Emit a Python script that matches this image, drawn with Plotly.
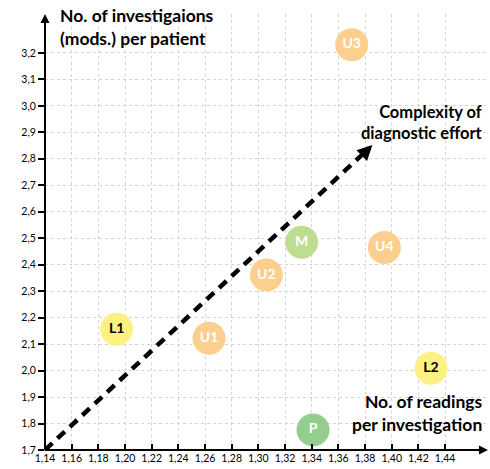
import plotly.graph_objects as go

# ---- data ----
labels = ["U3", "M", "U4", "U2", "L1", "U1", "L2", "P"]
readings_per_investigation = [1.370, 1.3325, 1.3945, 1.306, 1.1937, 1.263, 1.4295, 1.341]
investigations_per_patient = [3.231, 2.485, 2.465, 2.361, 2.156, 2.122, 2.009, 1.776]

x_tick_vals = [1.14, 1.16, 1.18, 1.20, 1.22, 1.24, 1.26, 1.28, 1.30, 1.32, 1.34, 1.36, 1.38, 1.40, 1.42, 1.44]
x_tick_text = ["1,14", "1,16", "1,18", "1,20", "1,22", "1,24", "1,26", "1,28", "1,30", "1,32",
               "1,34", "1,36", "1,38", "1,40", "1,42", "1,44"]
y_tick_vals = [1.7, 1.8, 1.9, 2.0, 2.1, 2.2, 2.3, 2.4, 2.5, 2.6, 2.7, 2.8, 2.9, 3.0, 3.1, 3.2]
y_tick_text = ["1,7", "1,8", "1,9", "2,0", "2,1", "2,2", "2,3", "2,4", "2,5", "2,6", "2,7", "2,8",
               "2,9", "3,0", "3,1", "3,2"]

complexity_x = [1.14, 1.383]
complexity_y = [1.70, 2.84]
complexity_tip = (1.3855, 2.852)

# ---- styles ----
fill = {"U": "#FDCF8F", "M": "#BEDD90", "P": "#94CE8C", "L": "#FCF182"}
txtc = {"U": "white", "M": "white", "P": "white", "L": "black"}
FONT = "Lato"

fig = go.Figure()

fig.add_trace(go.Scatter(
    x=complexity_x, y=complexity_y, mode="lines",
    line=dict(color="black", width=4.5, dash="10px,7px"),
    hoverinfo="skip", showlegend=False))

fig.add_trace(go.Scatter(
    x=readings_per_investigation, y=investigations_per_patient,
    mode="markers+text", text=labels, textposition="middle center",
    marker=dict(size=33, color=[fill[l[0]] for l in labels], line=dict(width=0)),
    textfont=dict(family=FONT, size=14, weight="bold", color=[txtc[l[0]] for l in labels]),
    showlegend=False, cliponaxis=False))

# arrowhead of the dashed complexity arrow
fig.add_annotation(x=complexity_tip[0], y=complexity_tip[1], xref="x", yref="y",
                   ax=-7, ay=7, axref="pixel", ayref="pixel",
                   showarrow=True, arrowhead=2, arrowsize=0.75, arrowwidth=4,
                   arrowcolor="black", text="")

# axis arrows
fig.add_annotation(x=1.0, y=0, xref="paper", yref="paper", ax=-445, ay=0,
                   showarrow=True, arrowhead=2, arrowsize=0.9, arrowwidth=2,
                   arrowcolor="black", text="")
fig.add_annotation(x=0, y=1.0, xref="paper", yref="paper", ax=0, ay=437,
                   showarrow=True, arrowhead=2, arrowsize=0.9, arrowwidth=2,
                   arrowcolor="black", text="")

fig.add_annotation(x=0.029, y=1.025, xref="paper", yref="paper", xanchor="left", yanchor="top",
                   align="left", showarrow=False,
                   text="<b>No. of investigaions<br>(mods.) per patient</b>",
                   font=dict(family=FONT, size=17.5, color="black"))
fig.add_annotation(x=0.993, y=0.752, xref="paper", yref="paper", xanchor="right", yanchor="middle",
                   align="right", showarrow=False,
                   text="<b>Complexity of<br>diagnostic effort</b>",
                   font=dict(family=FONT, size=16.5, color="black"))
fig.add_annotation(x=0.993, y=0.085, xref="paper", yref="paper", xanchor="right", yanchor="middle",
                   align="right", showarrow=False,
                   text="<b>No. of readings<br>per investigation</b>",
                   font=dict(family=FONT, size=17.5, color="black"))

fig.update_layout(
    width=490, height=469,
    margin=dict(l=45, r=2, t=14, b=19),
    paper_bgcolor="white", plot_bgcolor="white",
    font=dict(family=FONT, size=10.5, color="black"),
    xaxis=dict(range=[1.14, 1.4722], tickvals=x_tick_vals, ticktext=x_tick_text,
               ticks="inside", ticklen=6, tickwidth=1.5, tickcolor="black",
               showgrid=True, gridcolor="#d4d4d4", griddash="dot", gridwidth=1,
               zeroline=False, showline=False, tickfont=dict(size=10.5)),
    yaxis=dict(range=[1.7, 3.347], tickvals=y_tick_vals, ticktext=y_tick_text,
               ticks="outside", ticklen=6, tickwidth=2, tickcolor="black",
               showgrid=True, gridcolor="#d4d4d4", griddash="dot", gridwidth=1,
               zeroline=False, showline=False, tickfont=dict(size=10.5)),
)

fig.write_html("out.html", config={"displayModeBar": False},
               post_script="document.body.style.margin='0';document.body.style.overflow='hidden';")
